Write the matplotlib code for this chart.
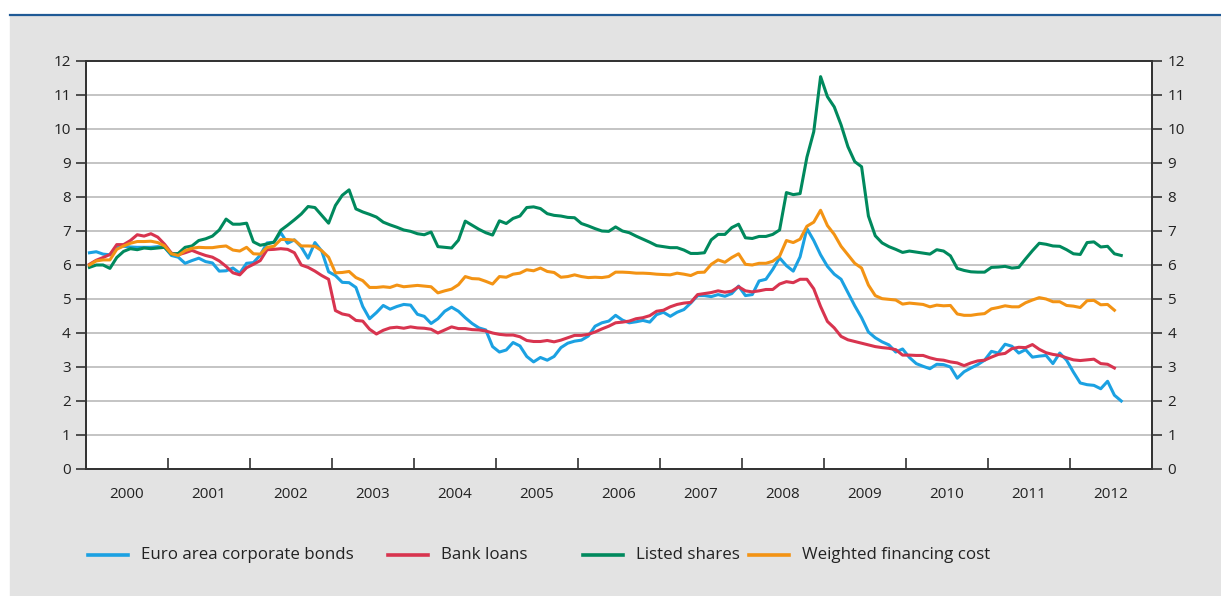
import numpy as np
import matplotlib.pyplot as plt
from matplotlib.lines import Line2D
from matplotlib.patches import Rectangle

plt.rcParams['font.family'] = ['Open Sans', 'DejaVu Sans']

# monthly series, Jan 2000 onwards (%)
bonds = [
    6.36, 6.39, 6.32, 6.30, 6.52, 6.55, 6.53, 6.52, 6.52, 6.52, 6.54, 6.52,
    6.28, 6.23, 6.05, 6.13, 6.20, 6.10, 6.06, 5.82, 5.83, 5.91, 5.76, 6.05,
    6.07, 6.29, 6.65, 6.67, 6.95, 6.64, 6.74, 6.53, 6.20, 6.66, 6.41, 5.80,
    5.69, 5.49, 5.48, 5.34, 4.78, 4.42, 4.60, 4.81, 4.70, 4.78, 4.84, 4.82,
    4.55, 4.49, 4.28, 4.42, 4.64, 4.76, 4.64, 4.45, 4.28, 4.15, 4.09, 3.60,
    3.44, 3.50, 3.72, 3.62, 3.31, 3.15, 3.28, 3.20, 3.31, 3.57, 3.70, 3.76,
    3.79, 3.91, 4.20, 4.30, 4.35, 4.52, 4.38, 4.30, 4.33, 4.37, 4.32, 4.54,
    4.61, 4.49, 4.61, 4.69, 4.88, 5.10, 5.10, 5.07, 5.13, 5.08, 5.16, 5.38,
    5.10, 5.13, 5.53, 5.58, 5.87, 6.21, 5.98, 5.82, 6.24, 7.07, 6.72, 6.30,
    5.96, 5.73, 5.58, 5.19, 4.80, 4.45, 4.03, 3.86, 3.74, 3.65, 3.44, 3.53,
    3.28, 3.10, 3.02, 2.95, 3.08, 3.07, 3.00, 2.67, 2.86, 2.97, 3.07, 3.20,
    3.46, 3.41, 3.67, 3.61, 3.41, 3.51, 3.29, 3.32, 3.34, 3.10, 3.41, 3.20,
    2.85, 2.53, 2.48, 2.46, 2.36, 2.58, 2.17, 2.00,
]
loans = [
    6.02, 6.14, 6.22, 6.31, 6.60, 6.60, 6.72, 6.89, 6.85, 6.92, 6.82, 6.61,
    6.35, 6.30, 6.36, 6.43, 6.35, 6.28, 6.23, 6.12, 5.96, 5.77, 5.71, 5.92,
    6.02, 6.13, 6.45, 6.46, 6.48, 6.46, 6.36, 6.00, 5.93, 5.82, 5.69, 5.58,
    4.66, 4.56, 4.52, 4.37, 4.35, 4.11, 3.97, 4.08, 4.15, 4.17, 4.14, 4.18,
    4.15, 4.14, 4.11, 4.00, 4.09, 4.18, 4.13, 4.13, 4.10, 4.09, 4.06, 4.00,
    3.96, 3.94, 3.94, 3.89, 3.78, 3.75, 3.75, 3.78, 3.74, 3.79, 3.86, 3.93,
    3.93, 3.96, 4.03, 4.12, 4.20, 4.30, 4.32, 4.35, 4.42, 4.45, 4.51, 4.64,
    4.67, 4.77, 4.84, 4.88, 4.90, 5.13, 5.16, 5.19, 5.24, 5.20, 5.23, 5.36,
    5.24, 5.21, 5.24, 5.28, 5.28, 5.44, 5.51, 5.48, 5.58, 5.58, 5.30, 4.78,
    4.34, 4.15, 3.90, 3.80, 3.75, 3.70, 3.65, 3.60, 3.57, 3.55, 3.51, 3.35,
    3.35, 3.34, 3.34, 3.27, 3.22, 3.20, 3.15, 3.12, 3.04, 3.12, 3.18, 3.20,
    3.29, 3.37, 3.40, 3.54, 3.58, 3.57, 3.66, 3.52, 3.42, 3.37, 3.34, 3.27,
    3.21, 3.19, 3.21, 3.23, 3.10, 3.08, 2.97,
]
shares = [
    5.93, 6.00, 6.00, 5.90, 6.22, 6.40, 6.48, 6.45, 6.50, 6.48, 6.50, 6.52,
    6.32, 6.34, 6.52, 6.56, 6.72, 6.77, 6.85, 7.03, 7.35, 7.20, 7.20, 7.23,
    6.68, 6.58, 6.62, 6.67, 7.02, 7.17, 7.33, 7.50, 7.72, 7.69, 7.46, 7.23,
    7.75, 8.05, 8.21, 7.65, 7.56, 7.49, 7.41, 7.26, 7.18, 7.11, 7.03, 6.99,
    6.92, 6.89, 6.97, 6.54, 6.52, 6.50, 6.73, 7.29, 7.17, 7.05, 6.95, 6.88,
    7.30, 7.22, 7.37, 7.44, 7.69, 7.71, 7.66, 7.51, 7.46, 7.44, 7.40, 7.39,
    7.22, 7.15, 7.07, 7.00, 6.99, 7.12, 7.00, 6.95, 6.85, 6.76, 6.67, 6.57,
    6.54, 6.51, 6.51, 6.44, 6.34, 6.34, 6.36, 6.74, 6.90, 6.90, 7.10, 7.20,
    6.80, 6.78, 6.84, 6.84, 6.90, 7.03, 8.13, 8.07, 8.10, 9.17, 9.92, 11.54,
    10.95, 10.65, 10.12, 9.48, 9.04, 8.89, 7.44, 6.86, 6.65, 6.54, 6.46, 6.37,
    6.41, 6.38, 6.35, 6.32, 6.45, 6.41, 6.27, 5.90, 5.84, 5.80, 5.79, 5.79,
    5.93, 5.94, 5.96, 5.91, 5.93, 6.18, 6.42, 6.64, 6.61, 6.56, 6.55, 6.45,
    6.33, 6.31, 6.66, 6.68, 6.53, 6.55, 6.33, 6.28,
]
financing = [
    6.00, 6.12, 6.15, 6.15, 6.46, 6.56, 6.64, 6.69, 6.69, 6.70, 6.66, 6.56,
    6.33, 6.28, 6.42, 6.49, 6.52, 6.51, 6.51, 6.54, 6.56, 6.44, 6.41, 6.52,
    6.33, 6.32, 6.52, 6.55, 6.75, 6.75, 6.73, 6.56, 6.56, 6.55, 6.42, 6.23,
    5.77, 5.78, 5.81, 5.63, 5.54, 5.34, 5.34, 5.36, 5.34, 5.41, 5.36, 5.38,
    5.40, 5.38, 5.36, 5.18, 5.24, 5.29, 5.42, 5.66, 5.60, 5.59, 5.52, 5.44,
    5.66, 5.64, 5.73, 5.76, 5.86, 5.83, 5.91, 5.81, 5.78, 5.64, 5.66, 5.71,
    5.66, 5.63, 5.64, 5.63, 5.66, 5.79, 5.79, 5.78, 5.76, 5.76, 5.75, 5.73,
    5.72, 5.71, 5.76, 5.73, 5.69, 5.78, 5.79, 6.02, 6.15, 6.08, 6.22, 6.33,
    6.02, 6.00, 6.05, 6.05, 6.11, 6.26, 6.72, 6.66, 6.76, 7.14, 7.26, 7.61,
    7.16, 6.90, 6.55, 6.30, 6.05, 5.91, 5.41, 5.10, 5.01, 4.99, 4.97, 4.85,
    4.88, 4.86, 4.84, 4.77, 4.82, 4.80, 4.81, 4.56, 4.52, 4.52, 4.55, 4.57,
    4.71, 4.75, 4.80, 4.77, 4.77, 4.89, 4.97, 5.04, 5.00, 4.92, 4.92, 4.81,
    4.79, 4.75, 4.95, 4.96, 4.83, 4.84, 4.67,
]

series = [
    ('Euro area corporate bonds', bonds, '#1ba1e2'),
    ('Bank loans', loans, '#d8344f'),
    ('Listed shares', shares, '#00895d'),
    ('Weighted financing cost', financing, '#f39314'),
]
year_labels = [str(y) for y in range(2000, 2013)]


def month_axis(n, start=2000):
    return start + (np.arange(n) + 0.5) / 12


W, H = 1221, 596
fig = plt.figure(figsize=(W / 100, H / 100), dpi=100, facecolor='white')

# grey panel and blue rule along its top edge
fig.patches.append(Rectangle((10 / W, 0), 1 - 10 / W, 1 - 16 / H,
                             transform=fig.transFigure, color='#e3e3e3', zorder=-5))
fig.lines.append(Line2D([10 / W, 1], [1 - 15 / H, 1 - 15 / H],
                        transform=fig.transFigure, color='#1f5a96', lw=1.6))

ax = fig.add_axes([86 / W, 1 - 469 / H, (1152 - 86) / W, (469 - 61) / H])
ax.set_facecolor('white')

for label, vals, col in series:
    ax.plot(month_axis(len(vals)), vals, color=col, lw=2.2, label=label,
            solid_joinstyle='round')

ax.set_xlim(2000, 2013)
ax.set_ylim(0, 12)
ax.set_yticks(range(0, 13))
ax.grid(axis='y', color='#c4c4c4', lw=1.4)
ax.set_axisbelow(True)

ax.set_xticks(range(2001, 2013))
ax.set_xticklabels([])
ax.set_xticks(np.arange(2000.5, 2013), minor=True)
ax.set_xticklabels(year_labels, minor=True)
ax.tick_params(axis='x', which='major', direction='in', length=8, width=1.2,
               color='#333333')
ax.tick_params(axis='x', which='minor', length=0, pad=13, labelsize=11,
               labelcolor='#222222')
ax.tick_params(axis='y', direction='out', length=7, width=1.2, color='#333333',
               labelsize=11, labelcolor='#222222', pad=4)

for s in ax.spines.values():
    s.set_color('#333333')
    s.set_linewidth(1.3)

ax2 = ax.twinx()
ax2.set_ylim(0, 12)
ax2.set_yticks(range(0, 13))
ax2.tick_params(axis='y', direction='out', length=7, width=1.2, color='#333333',
                labelsize=11, labelcolor='#222222', pad=4)
for s in ax2.spines.values():
    s.set_color('#333333')
    s.set_linewidth(1.3)

# legend row below the plot
leg_y = 1 - 555 / H
for (label, _, col), x0 in zip(series, [88, 388, 583, 749]):
    fig.lines.append(Line2D([x0 / W, (x0 + 40) / W], [leg_y, leg_y],
                            transform=fig.transFigure, color=col, lw=2.6))
    fig.text((x0 + 53) / W, leg_y, label, va='center', ha='left',
             fontsize=12.2, color='#222222')

fig.savefig('out.png', dpi=100, facecolor=fig.get_facecolor())
